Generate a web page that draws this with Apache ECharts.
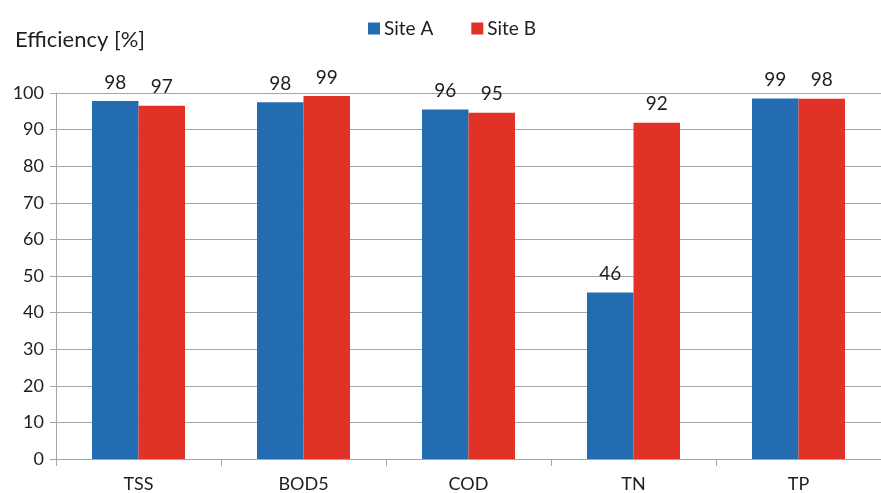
<!DOCTYPE html>
<html>
<head>
<meta charset="utf-8">
<script src="https://cdn.jsdelivr.net/npm/echarts@6/dist/echarts.min.js"></script>
<style>
  html, body { margin: 0; padding: 0; background: #fff; }
  #chart { width: 881px; height: 493px; }
</style>
</head>
<body>
<div id="chart"></div>
<script>
// Removal efficiency per parameter for the two sites
const categories = ['TSS', 'BOD5', 'COD', 'TN', 'TP'];
const siteA = [97.8, 97.5, 95.5, 45.5, 98.5];
const siteB = [96.5, 99.2, 94.6, 91.9, 98.4];
const yTicks = [0, 10, 20, 30, 40, 50, 60, 70, 80, 90, 100];

const FONT = 'Lato, "Open Sans", sans-serif';
const TEXT = '#1e1e1e';
const GRID = '#a6a6a6';

const chart = echarts.init(document.getElementById('chart'), null, { renderer: 'canvas' });

const labelStyle = {
  show: true,
  position: 'top',
  distance: 9,
  color: TEXT,
  fontFamily: FONT,
  fontSize: 19,
  formatter: p => Math.round(p.value)
};

chart.setOption({
  animation: false,
  backgroundColor: '#fff',
  title: {
    text: 'Efficiency [%]',
    left: 10,
    top: 24,
    textStyle: { color: TEXT, fontFamily: FONT, fontSize: 22, fontWeight: 'normal' }
  },
  legend: {
    top: 14,
    left: 363,
    itemWidth: 12,
    itemHeight: 12,
    itemGap: 38,
    icon: 'rect',
    textStyle: { color: TEXT, fontFamily: FONT, fontSize: 19, padding: [0, 0, 0, -1] },
    data: ['Site A', 'Site B']
  },
  grid: { left: 56, right: -8, top: 93, bottom: 32, containLabel: false },
  xAxis: {
    type: 'category',
    data: categories,
    axisLine: { lineStyle: { color: GRID, width: 1 } },
    axisTick: { show: true, length: 7, lineStyle: { color: GRID } },
    axisLabel: { color: TEXT, fontFamily: FONT, fontSize: 18, margin: 16 }
  },
  yAxis: {
    type: 'value',
    min: yTicks[0],
    max: yTicks[yTicks.length - 1],
    interval: 10,
    axisLine: { show: true, lineStyle: { color: GRID, width: 1 } },
    axisTick: { show: true, length: 6, lineStyle: { color: GRID } },
    splitLine: { show: true, lineStyle: { color: GRID, width: 1 } },
    axisLabel: { color: TEXT, fontFamily: FONT, fontSize: 18, margin: 12 }
  },
  series: [
    {
      name: 'Site A',
      type: 'bar',
      data: siteA,
      barWidth: 46.5,
      barGap: '0%',
      itemStyle: { color: '#236CB1' },
      label: labelStyle
    },
    {
      name: 'Site B',
      type: 'bar',
      data: siteB,
      barWidth: 46.5,
      barGap: '0%',
      itemStyle: { color: '#E03226' },
      label: labelStyle
    }
  ]
});
</script>
</body>
</html>
